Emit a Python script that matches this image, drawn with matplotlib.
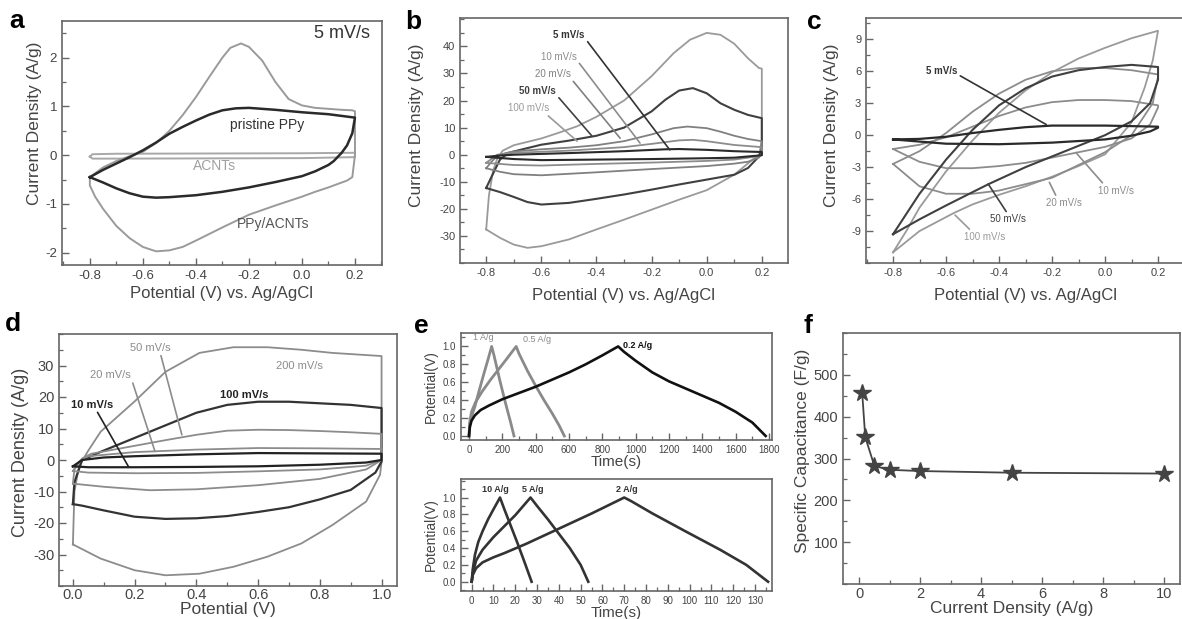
import matplotlib
matplotlib.use('Agg')
import matplotlib.pyplot as plt
from matplotlib.ticker import MultipleLocator, FixedLocator

plt.rcParams['font.family'] = ['Liberation Sans', 'DejaVu Sans']
plt.rcParams['axes.unicode_minus'] = False

# ---------------- data: panel a (5 mV/s) ----------------
a_comp_v = [-0.8, -0.75, -0.7, -0.65, -0.6, -0.55, -0.5, -0.45, -0.4, -0.35, -0.3, -0.27, -0.23, -0.2, -0.15,
            -0.1, -0.05, 0.0, 0.05, 0.1, 0.15, 0.19, 0.2, 0.2, 0.19, 0.17, 0.1, 0.05, 0.0, -0.1, -0.2, -0.3,
            -0.4, -0.45, -0.5, -0.55, -0.6, -0.65, -0.7, -0.75, -0.78, -0.8, -0.8]
a_comp_i = [-0.45, -0.25, -0.12, -0.02, 0.07, 0.25, 0.5, 0.82, 1.19, 1.6, 2.0, 2.2, 2.29, 2.22, 1.94,
            1.5, 1.15, 1.02, 0.97, 0.95, 0.93, 0.92, 0.9, 0.0, -0.45, -0.52, -0.66, -0.75, -0.85, -1.03, -1.22, -1.48,
            -1.75, -1.88, -1.95, -1.97, -1.88, -1.7, -1.45, -1.1, -0.85, -0.62, -0.45]
a_ppy_v = [-0.8, -0.75, -0.7, -0.65, -0.6, -0.55, -0.5, -0.45, -0.4, -0.35, -0.3, -0.25, -0.2, -0.1, 0.0, 0.1,
           0.2, 0.19, 0.17, 0.15, 0.12, 0.1, 0.05, 0.0, -0.1, -0.2, -0.3, -0.4, -0.5, -0.55, -0.6, -0.65, -0.7,
           -0.75, -0.8]
a_ppy_i = [-0.45, -0.3, -0.17, -0.04, 0.1, 0.26, 0.44, 0.58, 0.71, 0.83, 0.92, 0.96, 0.97, 0.93, 0.88, 0.84,
           0.77, 0.45, 0.2, 0.05, -0.12, -0.2, -0.33, -0.43, -0.55, -0.66, -0.75, -0.82, -0.86, -0.87, -0.85, -0.78,
           -0.68, -0.56, -0.45]
a_acnt_v = [-0.8, -0.79, -0.7, 0.0, 0.2, 0.2, 0.0, -0.7, -0.79, -0.8]
a_acnt_i = [-0.03, 0.02, 0.03, 0.04, 0.05, -0.04, -0.06, -0.07, -0.07, -0.03]

# ---------------- data: panel b ----------------
b_100_v = [-0.8, -0.79, -0.775, -0.76, -0.74, -0.7, -0.6, -0.54, -0.47, -0.4, -0.3, -0.2, -0.12, -0.06, 0.0, 0.05,
           0.1, 0.15, 0.19, 0.2, 0.2, 0.19, 0.17, 0.1, 0.0, -0.1, -0.2, -0.3, -0.4, -0.5, -0.6, -0.65, -0.7, -0.75, -0.8]
b_100_i = [-27.6, -15, -6, -1.5, 1.5, 3.5, 6, 8, 10.5, 14, 20, 29, 37.5, 42.5, 45, 44.3,
           41, 35.6, 32, 31.8, 5, 0, -1.5, -7.4, -13.1, -16.6, -20.3, -24, -27.6, -31.3, -33.8, -34.4, -33.2, -30.7, -27.6]
b_50_v = [-0.8, -0.78, -0.75, -0.72, -0.7, -0.6, -0.5, -0.4, -0.3, -0.2, -0.15, -0.1, -0.05, 0.0, 0.05, 0.1, 0.15,
          0.2, 0.2, 0.19, 0.15, 0.1, 0.0, -0.1, -0.2, -0.3, -0.4, -0.5, -0.6, -0.65, -0.7, -0.75, -0.8]
b_50_i = [-12.3, -8, -1.8, 0.6, 1.2, 3.7, 5.2, 7, 10, 16, 20.3, 23.7, 24.6, 22.7, 19, 16.6, 14.7,
          13.5, 2, -0.6, -4.9, -7.4, -9.2, -11, -12.9, -14.7, -16.3, -17.8, -18.4, -17.5, -15.6, -13.8, -12.3]
b_20_v = [-0.8, -0.78, -0.76, -0.73, -0.7, -0.6, -0.5, -0.4, -0.3, -0.2, -0.12, -0.07, 0.0, 0.05, 0.1, 0.15, 0.2,
          0.2, 0.19, 0.15, 0.1, 0.0, -0.2, -0.4, -0.6, -0.7, -0.75, -0.8]
b_20_i = [-5, -2.5, -0.5, 0.6, 1.2, 2, 2.6, 3.5, 5, 7.5, 9.8, 10.4, 9.8, 8.5, 7, 5.8, 5,
          0.5, -1, -2.6, -3.3, -4.2, -5.3, -6.5, -7.6, -7.2, -6.3, -5]
b_10_v = [-0.8, -0.78, -0.76, -0.7, -0.5, -0.3, -0.2, -0.1, -0.05, 0.0, 0.1, 0.2, 0.2, 0.19, 0.1, 0.0, -0.2,
          -0.4, -0.6, -0.7, -0.8]
b_10_i = [-3, -1.5, 0, 0.7, 1.5, 2.8, 4, 5.3, 5.5, 5, 3.6, 2.8, 0, -0.5, -1.8, -2.3, -2.9,
          -3.4, -4.0, -3.8, -3]
b_5_v = [-0.8, -0.75, -0.7, -0.5, -0.3, -0.15, -0.1, 0.0, 0.1, 0.2, 0.2, 0.1, 0.0, -0.2, -0.4, -0.6, -0.7, -0.8]
b_5_i = [-0.8, -0.3, 0, 0.6, 1.3, 2.0, 2.1, 1.8, 1.3, 1.0, -0.2, -1.1, -1.3, -1.6, -1.8, -2.0, -1.6, -0.8]

# ---------------- data: panel c ----------------
c_100_v = [-0.8, -0.75, -0.7, -0.6, -0.5, -0.4, -0.3, -0.2, -0.1, 0.0, 0.1, 0.2,
           0.18, 0.15, 0.1, 0.0, -0.1, -0.2, -0.3, -0.4, -0.5, -0.57, -0.7, -0.8]
c_100_i = [-11, -9, -6.8, -3.4, -0.5, 2.1, 4.2, 5.9, 7.2, 8.2, 9.1, 9.8,
           7.0, 4.5, 1.2, -1.8, -2.9, -3.9, -4.8, -5.6, -6.5, -7.3, -9.0, -11]
c_50_v = [-0.8, -0.7, -0.6, -0.5, -0.4, -0.3, -0.2, -0.1, 0.0, 0.1, 0.2, 0.2, 0.17, 0.1, 0.0, -0.1, -0.2,
          -0.3, -0.44, -0.6, -0.7, -0.8]
c_50_i = [-9.3, -5.5, -2.3, 0.5, 2.8, 4.4, 5.5, 6.1, 6.4, 6.6, 6.4, 5.2, 3.0, 1.3, 0.0, -1.0, -2.0,
          -3.0, -4.6, -6.6, -7.9, -9.3]
c_20_v = [-0.8, -0.7, -0.6, -0.5, -0.4, -0.3, -0.2, -0.1, 0.0, 0.1, 0.2, 0.2, 0.18, 0.1, 0.0, -0.1, -0.2,
          -0.3, -0.4, -0.5, -0.6, -0.7, -0.8]
c_20_i = [-2.7, -1.5, 0.2, 2.2, 3.9, 5.2, 6.0, 6.3, 6.3, 6.1, 5.7, 5.5, 3.0, 0.0, -1.6, -2.8, -4.0,
          -4.6, -5.2, -5.5, -5.5, -4.8, -2.7]
c_10_v = [-0.8, -0.7, -0.6, -0.5, -0.4, -0.3, -0.2, -0.1, 0.0, 0.1, 0.2, 0.2, 0.17, 0.1, 0.0, -0.1, -0.2,
          -0.3, -0.4, -0.5, -0.6, -0.7, -0.8]
c_10_i = [-1.3, -0.9, -0.2, 0.8, 1.8, 2.6, 3.1, 3.3, 3.3, 3.2, 2.8, 2.6, 1.0, -0.3, -1.1, -1.6, -2.1,
          -2.6, -2.9, -3.1, -3.1, -2.5, -1.3]
c_5_v = [-0.8, -0.7, -0.6, -0.5, -0.4, -0.3, -0.2, 0.0, 0.1, 0.2, 0.2, 0.17, 0.1, 0.0, -0.2, -0.4, -0.6, -0.7, -0.8]
c_5_i = [-0.4, -0.35, -0.15, 0.2, 0.5, 0.75, 0.9, 0.9, 0.85, 0.8, 0.7, 0.35, -0.05, -0.4, -0.7, -0.85, -0.8, -0.6, -0.4]

# ---------------- data: panel d ----------------
d_200_v = [0.0, 0.005, 0.02, 0.05, 0.09, 0.2, 0.3, 0.41, 0.52, 0.63, 0.74, 0.84, 1.0,
           1.0, 0.995, 0.95, 0.84, 0.74, 0.63, 0.52, 0.41, 0.3, 0.2, 0.09, 0.0]
d_200_i = [-26.8, -10, -2, 3, 9, 18.6, 28, 34, 35.8, 35.8, 35, 34, 33,
           -0.5, -4.7, -13.2, -20.7, -26.5, -30.7, -33.9, -36.1, -36.6, -35, -31.3, -26.8]
d_100_v = [0.0, 0.005, 0.03, 0.1, 0.2, 0.3, 0.4, 0.5, 0.6, 0.7, 0.8, 0.9, 1.0,
           1.0, 0.98, 0.9, 0.8, 0.7, 0.6, 0.5, 0.4, 0.3, 0.2, 0.1, 0.03, 0.0]
d_100_i = [-14, -7, 0, 3, 7, 11, 15, 17.5, 18.5, 18.5, 18, 17.5, 16.5,
           -0.5, -4, -9.5, -12.5, -15, -16.5, -17.8, -18.5, -18.7, -18, -16, -14.5, -14]
d_50_v = [0.0, 0.005, 0.03, 0.06, 0.2, 0.3, 0.4, 0.5, 0.6, 0.7, 0.8, 0.9, 1.0,
          1.0, 0.95, 0.8, 0.6, 0.4, 0.25, 0.1, 0.0]
d_50_i = [-7.5, -3, 0.5, 2, 4.5, 6.3, 8, 9.3, 9.6, 9.5, 9.2, 8.8, 8.3,
          0, -3, -6, -8, -9.3, -9.6, -8.5, -7.5]
d_20_v = [0.0, 0.02, 0.05, 0.2, 0.4, 0.6, 0.8, 1.0, 1.0, 0.95, 0.8, 0.6, 0.4, 0.2, 0.05, 0.0]
d_20_i = [-3.5, -0.5, 1.2, 2.5, 3.3, 3.8, 3.7, 3.5, 0, -1.8, -3, -3.6, -4.1, -4.2, -4, -3.5]
d_10_v = [0.0, 0.03, 0.1, 0.2, 0.4, 0.6, 0.8, 1.0, 1.0, 0.95, 0.8, 0.6, 0.4, 0.2, 0.05, 0.0]
d_10_i = [-2, 0, 0.8, 1.2, 1.8, 2.2, 2.1, 2, 0, -0.8, -1.5, -2, -2.2, -2.3, -2.3, -2]

# ---------------- data: panel e ----------------
e1_1_t = [0, 5, 15, 34, 60, 90, 115, 136, 150, 185, 220, 250, 270]
e1_1_v = [0, 0.12, 0.22, 0.32, 0.5, 0.7, 0.86, 1.0, 0.9, 0.62, 0.36, 0.15, 0.0]
e1_05_t = [0, 4, 15, 40, 80, 130, 180, 230, 283, 300, 350, 400, 450, 500, 540, 572]
e1_05_v = [0, 0.15, 0.27, 0.38, 0.5, 0.63, 0.75, 0.87, 1.0, 0.92, 0.73, 0.56, 0.4, 0.25, 0.12, 0.0]
e1_02_t = [0, 5, 15, 35, 70, 120, 200, 300, 400, 500, 600, 700, 800, 895,
           930, 1000, 1100, 1200, 1300, 1400, 1500, 1600, 1700, 1780]
e1_02_v = [0, 0.1, 0.17, 0.23, 0.29, 0.34, 0.41, 0.48, 0.55, 0.63, 0.71, 0.8, 0.9, 1.0,
           0.94, 0.84, 0.71, 0.61, 0.53, 0.45, 0.37, 0.27, 0.15, 0.0]
e2_10_t = [0, 0.5, 1.5, 3, 5, 7.5, 10, 13, 15, 18, 21, 24, 27.5]
e2_10_v = [0, 0.15, 0.32, 0.47, 0.6, 0.74, 0.86, 1.0, 0.86, 0.66, 0.46, 0.25, 0.0]
e2_5_t = [0, 0.5, 2, 5, 10, 15, 20, 27, 30, 35, 40, 45, 50, 53.5]
e2_5_v = [0, 0.1, 0.25, 0.38, 0.53, 0.66, 0.79, 1.0, 0.9, 0.74, 0.57, 0.4, 0.2, 0.0]
e2_2_t = [0, 0.5, 2, 5, 10, 15, 25, 40, 55, 70, 73, 83, 98, 114, 126, 136]
e2_2_v = [0, 0.08, 0.16, 0.23, 0.29, 0.34, 0.45, 0.63, 0.81, 1.0, 0.96, 0.81, 0.6, 0.38, 0.2, 0.0]

# ---------------- data: panel f ----------------
f_current = [0.1, 0.2, 0.5, 1, 2, 5, 10]
f_capacitance = [456, 351, 282, 273, 270, 266, 264]

# ---------------- tick labels ----------------
cv_ticks = [-0.8, -0.6, -0.4, -0.2, 0.0, 0.2]
a_yticks = [-2, -1, 0, 1, 2]
b_yticks = [-30, -20, -10, 0, 10, 20, 30, 40]
c_yticks = [-9, -6, -3, 0, 3, 6, 9]
d_xticks = [0.0, 0.2, 0.4, 0.6, 0.8, 1.0]
d_yticks = [-30, -20, -10, 0, 10, 20, 30]
e_yticks = [0.0, 0.2, 0.4, 0.6, 0.8, 1.0]
e1_xticks = [0, 200, 400, 600, 800, 1000, 1200, 1400, 1600, 1800]
e2_xticks = [0, 10, 20, 30, 40, 50, 60, 70, 80, 90, 100, 110, 120, 130]
f_xticks = [0, 2, 4, 6, 8, 10]
f_yticks = [100, 200, 300, 400, 500]

# ---------------- layout ----------------
W, H = 1182, 619
fig = plt.figure(figsize=(W / 100, H / 100), dpi=100)


def box(l, t, r, b):
    return [l / W, 1 - b / H, (r - l) / W, (b - t) / H]


TICK = '#444444'
SPINE = '#666666'
DARK = '#333333'
MID = '#808080'
LIGHT = '#9a9a9a'


def style(ax, xlim, ylim, xt, xmin, yt, ymin, fs, xpad=3.5):
    ax.set_xlim(*xlim)
    ax.set_ylim(*ylim)
    ax.xaxis.set_major_locator(FixedLocator(xt))
    ax.xaxis.set_minor_locator(MultipleLocator(xmin))
    ax.yaxis.set_major_locator(FixedLocator(yt))
    ax.yaxis.set_minor_locator(MultipleLocator(ymin))
    ax.tick_params(which='both', direction='in', top=False, right=False,
                   colors=SPINE, labelcolor=TICK, labelsize=fs)
    ax.tick_params(which='major', length=5, width=1.0)
    ax.tick_params(which='minor', length=3, width=0.9)
    ax.tick_params(axis='x', pad=xpad)
    for sp in ax.spines.values():
        sp.set_color(SPINE)
        sp.set_linewidth(1.2)


def panel_letter(x, y, s):
    fig.text(x / W, 1 - y / H, s, fontsize=19, fontweight='bold', ha='left', va='center', color='black')


def lab(ax, s, xy, txt, color, fs=7, bold=False, relpos=(0.5, 0.5)):
    ax.annotate(s, xy=xy, xytext=txt, ha='center', va='center', fontsize=fs, color=color,
                fontweight='bold' if bold else 'normal',
                arrowprops=dict(arrowstyle='-', color=color, lw=1.2, shrinkA=0, shrinkB=0, relpos=relpos))


# ---- panel a ----
ax = fig.add_axes(box(62, 21, 382, 265))
ax.plot(a_acnt_v, a_acnt_i, color='#a8a8a8', lw=1.4)
ax.plot(a_comp_v, a_comp_i, color=LIGHT, lw=1.4)
ax.plot(a_ppy_v, a_ppy_i, color='#2a2a2a', lw=1.8)
style(ax, (-0.905, 0.302), (-2.25, 2.75), cv_ticks, 0.1, a_yticks, 0.5, 9.5)
ax.set_xlabel('Potential (V) vs. Ag/AgCl', fontsize=12, color=TICK, labelpad=3)
ax.set_ylabel('Current Density (A/g)', fontsize=12.5, color=TICK)
ax.yaxis.set_label_coords(-0.062, 0.58)
ax.text(0.15, 2.49, '5 mV/s', fontsize=13, color=DARK, ha='center', va='center')
ax.text(-0.13, 0.61, 'pristine PPy', fontsize=10, color=DARK, ha='center', va='center')
ax.text(-0.33, -0.22, 'ACNTs', fontsize=10, color='#a0a0a0', ha='center', va='center')
ax.text(-0.11, -1.41, 'PPy/ACNTs', fontsize=10, color='#555555', ha='center', va='center')
panel_letter(9, 21, 'a')

# ---- panel b ----
ax = fig.add_axes(box(460, 18, 788, 263))
ax.plot(b_100_v, b_100_i, color=LIGHT, lw=1.3)
ax.plot(b_50_v, b_50_i, color='#404040', lw=1.5)
ax.plot(b_20_v, b_20_i, color=MID, lw=1.3)
ax.plot(b_10_v, b_10_i, color='#8c8c8c', lw=1.3)
ax.plot(b_5_v, b_5_i, color='#2a2a2a', lw=1.5)
style(ax, (-0.895, 0.295), (-40, 50.5), cv_ticks, 0.1, b_yticks, 5, 8)
ax.set_xlabel('Potential (V) vs. Ag/AgCl', fontsize=12, color=TICK, labelpad=7)
ax.set_ylabel('Current Density (A/g)', fontsize=12.5, color=TICK)
ax.yaxis.set_label_coords(-0.11, 0.56)
lab(ax, '5 mV/s', (-0.134, 1.8), (-0.499, 44.2), DARK, bold=True, relpos=(1.0, 0.2))
lab(ax, '10 mV/s', (-0.242, 4.3), (-0.537, 36.2), '#8c8c8c', relpos=(1.0, 0.2))
lab(ax, '20 mV/s', (-0.314, 6.1), (-0.559, 29.8), MID, relpos=(1.0, 0.1))
lab(ax, '50 mV/s', (-0.417, 7.0), (-0.613, 23.7), '#404040', bold=True, relpos=(1.0, 0.1))
lab(ax, '100 mV/s', (-0.47, 5.0), (-0.646, 17.2), LIGHT, relpos=(0.9, 0.0))
panel_letter(405, 22, 'b')

# ---- panel c ----
ax = fig.add_axes(box(866, 18, 1184, 263))
ax.plot(c_100_v, c_100_i, color=LIGHT, lw=1.3)
ax.plot(c_20_v, c_20_i, color='#8c8c8c', lw=1.3)
ax.plot(c_10_v, c_10_i, color='#8c8c8c', lw=1.3)
ax.plot(c_50_v, c_50_i, color='#404040', lw=1.5)
ax.plot(c_5_v, c_5_i, color='#2a2a2a', lw=1.6)
style(ax, (-0.902, 0.298), (-12, 11), cv_ticks, 0.1, c_yticks, 1.5, 8)
ax.set_xlabel('Potential (V) vs. Ag/AgCl', fontsize=12, color=TICK, labelpad=7)
ax.set_ylabel('Current Density (A/g)', fontsize=12.5, color=TICK)
ax.yaxis.set_label_coords(-0.085, 0.56)
lab(ax, '5 mV/s', (-0.222, 1.0), (-0.616, 6.0), DARK, bold=True, relpos=(1.0, 0.2))
lab(ax, '10 mV/s', (-0.11, -1.63), (0.04, -5.2), '#8c8c8c', relpos=(0.2, 1.0))
lab(ax, '20 mV/s', (-0.21, -4.43), (-0.154, -6.36), '#8c8c8c', relpos=(0.3, 1.0))
lab(ax, '50 mV/s', (-0.441, -4.58), (-0.366, -7.9), '#404040', relpos=(0.5, 1.0))
lab(ax, '100 mV/s', (-0.566, -7.5), (-0.454, -9.56), LIGHT, relpos=(0.2, 1.0))
panel_letter(807, 22, 'c')

# ---- panel d ----
ax = fig.add_axes(box(59, 334, 397, 586))
ax.plot(d_200_v, d_200_i, color='#8c8c8c', lw=1.3)
ax.plot(d_100_v, d_100_i, color='#333333', lw=1.6)
ax.plot(d_50_v, d_50_i, color='#8c8c8c', lw=1.3)
ax.plot(d_20_v, d_20_i, color='#8c8c8c', lw=1.3)
ax.plot(d_10_v, d_10_i, color='#222222', lw=1.6)
style(ax, (-0.045, 1.05), (-40, 40), d_xticks, 0.1, d_yticks, 5, 10.5, xpad=1.5)
ax.set_xlabel('Potential (V)', fontsize=12.5, color=TICK, labelpad=0)
ax.set_ylabel('Current Density (A/g)', fontsize=13, color=TICK)
ax.yaxis.set_label_coords(-0.089, 0.53)
ax.text(0.733, 29.8, '200 mV/s', fontsize=8, color='#8c8c8c', ha='center', va='center')
ax.text(0.554, 20.5, '100 mV/s', fontsize=8, color='#222222', ha='center', va='center', fontweight='bold')
lab(ax, '50 mV/s', (0.353, 8.0), (0.25, 35.6), '#8c8c8c', fs=8, relpos=(0.75, 0.0))
lab(ax, '20 mV/s', (0.266, 2.7), (0.123, 26.9), '#8c8c8c', fs=8, relpos=(1.0, 0.2))
lab(ax, '10 mV/s', (0.18, -2.1), (0.061, 17.6), '#222222', fs=8, bold=True, relpos=(0.6, 0.0))
panel_letter(5, 324, 'd')

# ---- panel e (top) ----
ax = fig.add_axes(box(461, 333, 772, 440))
ax.plot(e1_1_t, e1_1_v, color='#8a8a8a', lw=2.0)
ax.plot(e1_05_t, e1_05_v, color='#8a8a8a', lw=2.0)
ax.plot(e1_02_t, e1_02_v, color='#111111', lw=1.9)
style(ax, (-48, 1818), (-0.045, 1.15), e1_xticks, 100, e_yticks, 0.1, 7)
ax.set_xlabel('Time(s)', fontsize=11, color=TICK, labelpad=0)
ax.set_ylabel('Potential(V)', fontsize=10, color=TICK, labelpad=1)
ax.yaxis.set_label_coords(-0.074, 0.5)
ax.text(88, 1.1, '1 A/g', fontsize=6.5, color='#8a8a8a', ha='center', va='center')
ax.text(411, 1.08, '0.5 A/g', fontsize=6.5, color='#8a8a8a', ha='center', va='center')
ax.text(1012, 1.01, '0.2 A/g', fontsize=6.5, color='#111111', ha='center', va='center', fontweight='bold')
panel_letter(414, 326, 'e')

# ---- panel e (bottom) ----
ax = fig.add_axes(box(461, 479, 772, 591))
ax.plot(e2_10_t, e2_10_v, color='#333333', lw=1.9)
ax.plot(e2_5_t, e2_5_v, color='#333333', lw=1.9)
ax.plot(e2_2_t, e2_2_v, color='#333333', lw=1.9)
style(ax, (-4.9, 137.8), (-0.11, 1.22), e2_xticks, 5, e_yticks, 0.1, 7)
ax.set_xlabel('Time(s)', fontsize=11, color=TICK, labelpad=0)
ax.set_ylabel('Potential(V)', fontsize=10, color=TICK, labelpad=1)
ax.yaxis.set_label_coords(-0.074, 0.5)
ax.text(11, 1.1, '10 A/g', fontsize=6.5, color='#333333', ha='center', va='center', fontweight='bold')
ax.text(28, 1.1, '5 A/g', fontsize=6.5, color='#333333', ha='center', va='center', fontweight='bold')
ax.text(71, 1.1, '2 A/g', fontsize=6.5, color='#333333', ha='center', va='center', fontweight='bold')

# ---- panel f ----
ax = fig.add_axes(box(843, 333, 1180, 584))
ax.plot(f_current, f_capacitance, color='#444444', lw=1.3, marker='*', markersize=13,
        markerfacecolor='#444444', markeredgecolor='#444444')
style(ax, (-0.53, 10.52), (0, 600), f_xticks, 1, f_yticks, 50, 10.5, xpad=2)
ax.set_xlabel('Current Density (A/g)', fontsize=12.5, color=TICK, labelpad=0)
ax.set_ylabel('Specific Capacitance (F/g)', fontsize=12.5, color=TICK)
ax.yaxis.set_label_coords(-0.098, 0.53)
panel_letter(804, 326, 'f')

fig.savefig('out.png', dpi=100)
